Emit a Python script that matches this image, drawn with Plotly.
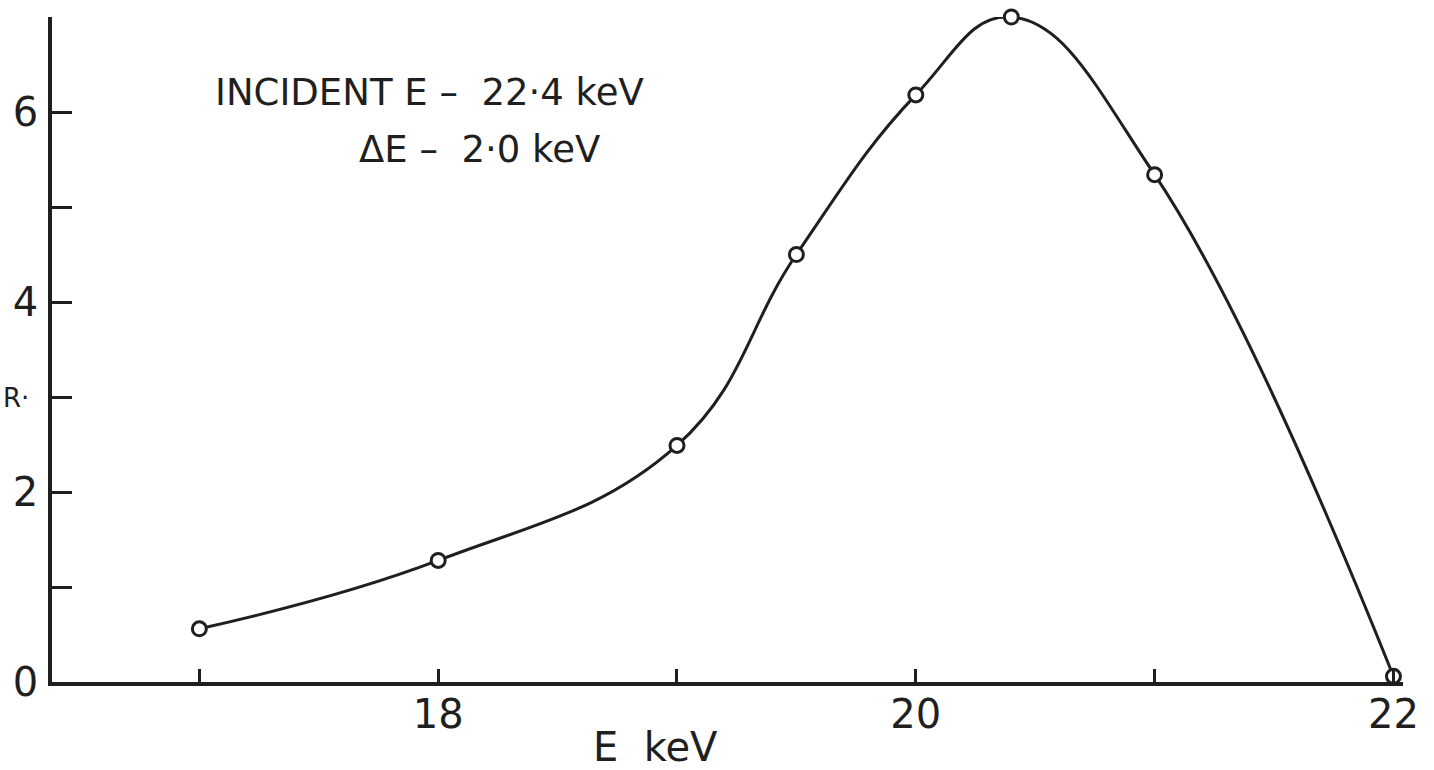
import plotly.graph_objects as go

# Data
energy_kev = [17.0, 18.0, 19.0, 19.5, 20.0, 20.4, 21.0, 22.0]
r_values = [0.56, 1.28, 2.49, 4.50, 6.18, 7.00, 5.34, 0.06]

x_tickvals = [17, 18, 19, 20, 21, 22]
x_ticktext = ["", "18", "", "20", "", "22"]
y_tickvals = [0, 1, 2, 3, 4, 5, 6, 7]
y_ticktext = ["0", "", "2", "", "4", "", "6", ""]

INK = "#1f1f1f"
FONT = "DejaVu Sans"

PLOT_H = 770 - 17 - 88

def py(pixel_y):
    return (682 - pixel_y) / PLOT_H

def px(pixel_x):
    return (pixel_x - 52) / (1434 - 52 - 31)

fig = go.Figure()
fig.add_trace(go.Scatter(
    x=energy_kev, y=r_values,
    mode="lines+markers",
    line=dict(color=INK, width=3, shape="spline", smoothing=1.2),
    marker=dict(symbol="circle", size=14, color="white",
                line=dict(color=INK, width=3)),
    cliponaxis=False,
    showlegend=False,
))

fig.update_layout(
    width=1434, height=770,
    margin=dict(l=52, r=31, t=17, b=88, autoexpand=False),
    paper_bgcolor="white", plot_bgcolor="white",
    font=dict(family=FONT, color=INK, size=40),
    xaxis=dict(
        range=[16.383, 22.04],
        tickvals=x_tickvals, ticktext=x_ticktext,
        ticks="inside", ticklen=13, tickwidth=2.5, tickcolor=INK,
        showline=True, linecolor=INK, linewidth=3.5,
        showgrid=False, zeroline=False, automargin=False,
        tickfont=dict(size=40, family=FONT, color=INK),
        ticklabelstandoff=-6,
    ),
    yaxis=dict(
        range=[0, 7],
        tickvals=y_tickvals, ticktext=y_ticktext,
        ticks="inside", ticklen=20, tickwidth=3, tickcolor=INK,
        showline=True, linecolor=INK, linewidth=3.5,
        showgrid=False, zeroline=False, automargin=False,
        tickfont=dict(size=40, family=FONT, color=INK),
        ticklabelstandoff=2,
    ),
    annotations=[
        dict(text="E  keV", x=px(655), y=py(747),
             xref="paper", yref="paper", xanchor="center", yanchor="middle",
             showarrow=False, font=dict(size=40, family=FONT, color=INK)),
        dict(text="INCIDENT E \u2013  22\u00b74 keV", x=px(213), y=py(92),
             xref="paper", yref="paper", xanchor="left", yanchor="middle",
             showarrow=False, font=dict(size=37, family=FONT, color=INK)),
        dict(text="\u0394E \u2013  2\u00b70 keV", x=px(357), y=py(150),
             xref="paper", yref="paper", xanchor="left", yanchor="middle",
             showarrow=False, font=dict(size=37, family=FONT, color=INK)),
        dict(text="R\u00b7", x=px(1), y=py(398),
             xref="paper", yref="paper", xanchor="left", yanchor="middle",
             showarrow=False, font=dict(size=26, family=FONT, color=INK)),
    ],
)

fig.write_html("out.html")
